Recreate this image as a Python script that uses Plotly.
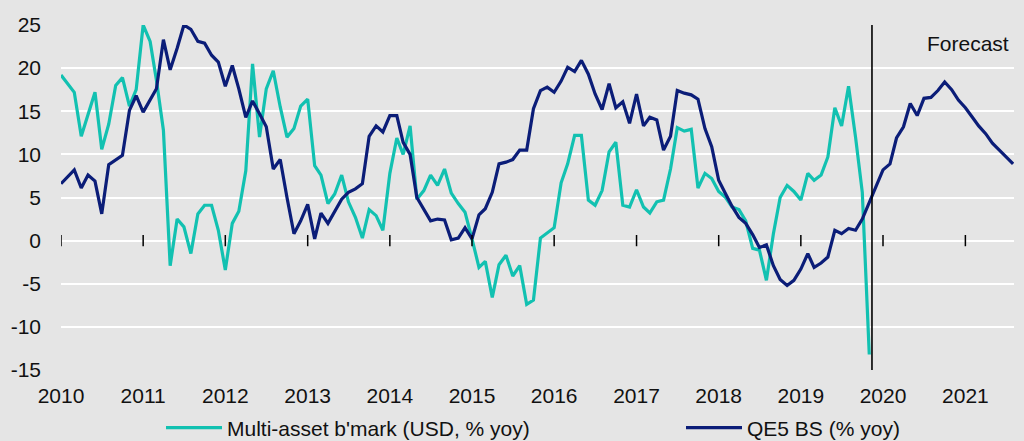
import pandas as pd
import plotly.graph_objects as go

start = "2010-01-01"

multi_asset = [
    19.2, 18.2, 17.2, 12.1, 14.6, 17.2, 10.6, 13.5, 18.0, 18.9, 15.6, 17.5,
    25.0, 23.1, 18.6, 12.8, -2.9, 2.5, 1.6, -1.5, 3.1, 4.1, 4.1, 1.2,
    -3.4, 2.0, 3.4, 8.1, 20.5, 12.0, 17.6, 19.7, 15.5, 12.0, 13.0, 15.6,
    16.4, 8.7, 7.6, 4.3, 5.4, 7.6, 4.5, 2.7, 0.3, 3.6, 2.9, 1.2,
    7.8, 11.9, 10.0, 13.3, 4.8, 5.8, 7.6, 6.4, 8.3, 5.5, 4.3, 3.3,
    0.2, -3.1, -2.4, -6.6, -2.8, -1.7, -4.1, -2.9, -7.4, -6.9, 0.3, 0.9,
    1.5, 6.7, 8.9, 12.2, 12.2, 4.7, 4.1, 5.8, 10.3, 11.4, 4.1, 3.9,
    5.9, 3.9, 3.2, 4.5, 4.7, 8.3, 13.1, 12.7, 12.9, 6.1, 7.8, 7.2,
    5.7, 5.0, 3.9, 3.6, 2.3, -0.9, -1.1, -4.6, 0.8, 5.0, 6.4, 5.7,
    4.7, 7.8, 7.0, 7.6, 9.7, 15.4, 13.3, 17.9, 12.0, 5.6, -13.2,
]

qe5_bs = [
    6.6, 7.5, 8.2, 6.1, 7.6, 6.9, 3.1, 8.8, 9.4, 9.9, 15.1, 16.8,
    14.9, 16.3, 17.6, 23.3, 19.8, 22.3, 25.0, 24.5, 23.1, 22.9, 21.5, 20.7,
    17.9, 20.3, 17.6, 14.3, 16.2, 14.7, 13.2, 8.3, 9.4, 5.0, 0.8, 2.3,
    4.2, 0.2, 3.2, 2.0, 3.3, 4.8, 5.6, 6.0, 6.6, 12.1, 13.3, 12.6,
    14.5, 14.5, 11.4, 10.0, 5.0, 3.7, 2.3, 2.5, 2.4, 0.1, 0.3, 1.5,
    0.2, 3.0, 3.7, 5.6, 8.9, 9.1, 9.4, 10.5, 10.5, 15.3, 17.4, 17.8,
    17.2, 18.5, 20.1, 19.6, 20.9, 19.3, 17.0, 15.2, 18.2, 15.4, 16.1, 13.6,
    17.0, 13.3, 14.3, 14.0, 10.5, 12.1, 17.4, 17.1, 16.9, 16.4, 13.0, 10.9,
    7.0, 5.4, 4.0, 2.7, 2.0, 0.7, -0.8, -0.5, -2.9, -4.5, -5.2, -4.6,
    -3.3, -1.5, -3.1, -2.6, -1.9, 1.2, 0.8, 1.4, 1.2, 2.5, 4.5, 6.4,
    8.2, 8.9, 11.9, 13.2, 15.9, 14.5, 16.5, 16.6, 17.4, 18.4, 17.5, 16.3,
    15.4, 14.3, 13.3, 12.4, 11.3, 10.5, 9.7, 8.9,
]

year_ticks = [str(y) for y in range(2010, 2022)]
y_ticks = [-15, -10, -5, 0, 5, 10, 15, 20, 25]
forecast_date = "2019-11-13"
forecast_label = "Forecast"
series_names = ["Multi-asset b'mark (USD, % yoy)", "QE5 BS (% yoy)"]

dates_ma = pd.date_range(start, periods=len(multi_asset), freq="MS")
dates_qe = pd.date_range(start, periods=len(qe5_bs), freq="MS")

TEAL = "#12C1B1"
NAVY = "#0B1D78"
BG = "#E5E5E5"
FONT = "Liberation Sans, Arial, sans-serif"
FS = 21
W, H = 1016, 433

fig = go.Figure()
fig.add_trace(go.Scatter(x=dates_ma, y=multi_asset, mode="lines", name=series_names[0],
                         line=dict(color=TEAL, width=3.2), legend="legend"))
fig.add_trace(go.Scatter(x=dates_qe, y=qe5_bs, mode="lines", name=series_names[1],
                         line=dict(color=NAVY, width=3.2), legend="legend2"))

tick_dates = [f"{y}-01-01" for y in year_ticks]
# crossing tick marks on the zero line
for d in tick_dates:
    fig.add_shape(type="line", x0=d, x1=d, y0=-0.65, y1=0.65, xref="x", yref="y",
                  line=dict(color="black", width=1.5), layer="above")
# zero axis line
fig.add_shape(type="line", x0=0, x1=1, xref="paper", y0=0, y1=0, yref="y",
              line=dict(color="black", width=1.5), layer="below")
# forecast divider
fig.add_shape(type="line", x0=forecast_date, x1=forecast_date, xref="x",
              y0=0, y1=1, yref="paper", line=dict(color="black", width=1.6), layer="above")
fig.add_annotation(text=forecast_label, x=1, xref="paper", y=25, yref="y",
                   xanchor="right", yanchor="top", xshift=-3, yshift=-5, showarrow=False,
                   font=dict(family=FONT, size=FS, color="#111111"))

legend_common = dict(orientation="h", xref="container", yref="container",
                     yanchor="middle", xanchor="left", bgcolor="rgba(0,0,0,0)",
                     itemwidth=56, font=dict(family=FONT, size=FS, color="#111111"))

fig.update_layout(
    width=W, height=H,
    margin=dict(l=53, r=10, t=17, b=71, autoexpand=False),
    paper_bgcolor=BG, plot_bgcolor=BG,
    font=dict(family=FONT, size=FS, color="#111111"),
    showlegend=True,
    legend=dict(x=153 / W, y=13 / H, **legend_common),
    legend2=dict(x=673 / W, y=13 / H, **legend_common),
    xaxis=dict(range=["2010-01-01", "2021-08-05"], tickvals=tick_dates, ticktext=year_ticks,
               showgrid=False, zeroline=False, showline=False, ticks="", automargin=False,
               tickfont=dict(family=FONT, size=FS), ticklabelstandoff=11),
    yaxis=dict(range=[-15, 25], tickvals=y_ticks, ticktext=[str(v) for v in y_ticks],
               showgrid=True, gridcolor="white", gridwidth=2, zeroline=False, automargin=False,
               showline=False, ticks="", tickfont=dict(family=FONT, size=FS),
               ticklabelstandoff=19),
)

fig.write_html("out.html",
               post_script=f"document.body.style.backgroundColor='{BG}';"
                           "document.body.style.overflow='hidden';")
